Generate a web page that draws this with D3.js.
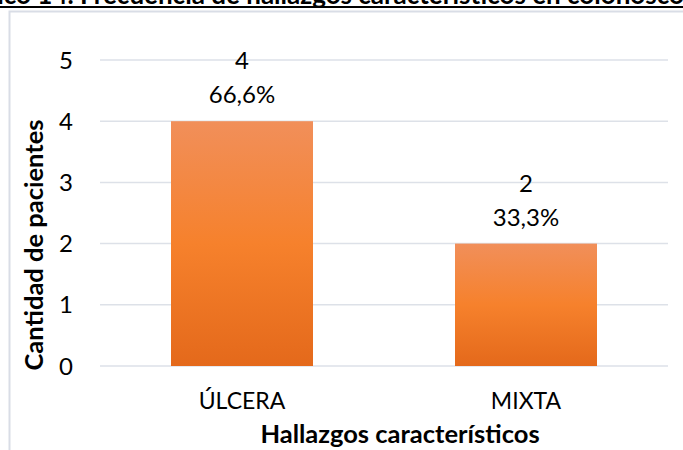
<!DOCTYPE html>
<html>
<head>
<meta charset="utf-8">
<script src="https://cdn.jsdelivr.net/npm/d3@7"></script>
<style>
  body { margin: 0; background: #fff; }
  svg { display: block; font-family: Lato, "Open Sans", sans-serif; }
</style>
</head>
<body>
<svg id="chart" width="683" height="450"></svg>
<script>
// data
var categories = ["ÚLCERA", "MIXTA"];
var counts = [4, 2];
var percents = ["66,6%", "33,3%"];
var yTicks = [0, 1, 2, 3, 4, 5];

var svg = d3.select("#chart");
var W = 683, H = 450;

// chart frame (runs off the right and bottom edge)
svg.append("rect")
  .attr("x", 9.5).attr("y", 11.5)
  .attr("width", 700).attr("height", 460)
  .attr("fill", "#fff")
  .attr("stroke", "#d9dde6").attr("stroke-width", 2);

// title, cut off at the top like in the source image
var title = svg.append("text")
  .attr("y", 4)
  .attr("font-weight", "bold")
  .attr("font-size", 26)
  .attr("fill", "#000");
var pre = title.append("tspan").text("Gráfico 14. ");
title.append("tspan").text("Frecuencia de hallazgos característicos en colonoscopia");
var preW = pre.node().getComputedTextLength();
title.attr("x", 80 - preW);

svg.append("line")
  .attr("x1", 0).attr("x2", W)
  .attr("y1", 7).attr("y2", 7)
  .attr("stroke", "#000").attr("stroke-width", 2);

var x = d3.scaleBand()
  .domain(categories)
  .range([100, 668])
  .paddingInner(0.5)
  .paddingOuter(0.25);

var y = d3.scaleLinear()
  .domain([0, 5])
  .range([366, 60]);

// gridlines
svg.append("g")
  .selectAll("line")
  .data(yTicks)
  .enter().append("line")
  .attr("x1", 100).attr("x2", 668)
  .attr("y1", function(d) { return y(d); })
  .attr("y2", function(d) { return y(d); })
  .attr("stroke", "#dde1e8")
  .attr("stroke-width", 1.5);

// y tick labels
svg.append("g")
  .selectAll("text")
  .data(yTicks)
  .enter().append("text")
  .attr("x", 73)
  .attr("y", function(d) { return y(d); })
  .attr("dy", "0.36em")
  .attr("text-anchor", "end")
  .attr("font-size", 24)
  .attr("fill", "#000")
  .text(function(d) { return d; });

// bar gradient
var grad = svg.append("defs").append("linearGradient")
  .attr("id", "barGrad")
  .attr("x1", 0).attr("y1", 0).attr("x2", 0).attr("y2", 1);
grad.append("stop").attr("offset", "0%").attr("stop-color", "#f18f5a");
grad.append("stop").attr("offset", "50%").attr("stop-color", "#f6812c");
grad.append("stop").attr("offset", "100%").attr("stop-color", "#e4691b");

svg.append("g")
  .selectAll("rect")
  .data(counts)
  .enter().append("rect")
  .attr("x", function(d, i) { return x(categories[i]); })
  .attr("y", function(d) { return y(d); })
  .attr("width", x.bandwidth())
  .attr("height", function(d) { return y(0) - y(d); })
  .attr("fill", "url(#barGrad)");

// data labels
var lab = svg.append("g")
  .selectAll("text")
  .data(counts)
  .enter().append("text")
  .attr("text-anchor", "middle")
  .attr("font-size", 24)
  .attr("fill", "#000");
lab.append("tspan")
  .attr("x", function(d, i) { return x(categories[i]) + x.bandwidth() / 2; })
  .attr("y", function(d) { return y(d) - 52; })
  .text(function(d) { return d; });
lab.append("tspan")
  .attr("x", function(d, i) { return x(categories[i]) + x.bandwidth() / 2; })
  .attr("y", function(d) { return y(d) - 18; })
  .text(function(d, i) { return percents[i]; });

// category labels
svg.append("g")
  .selectAll("text")
  .data(categories)
  .enter().append("text")
  .attr("x", function(d) { return x(d) + x.bandwidth() / 2; })
  .attr("y", 409)
  .attr("text-anchor", "middle")
  .attr("font-size", 23)
  .attr("fill", "#000")
  .text(function(d) { return d; });

// axis titles
svg.append("text")
  .attr("x", 400).attr("y", 443)
  .attr("text-anchor", "middle")
  .attr("font-size", 25.5)
  .attr("font-weight", "bold")
  .text("Hallazgos característicos");

svg.append("text")
  .attr("transform", "translate(43,245) rotate(-90)")
  .attr("text-anchor", "middle")
  .attr("font-size", 25.5)
  .attr("font-weight", "bold")
  .text("Cantidad de pacientes");
</script>
</body>
</html>
